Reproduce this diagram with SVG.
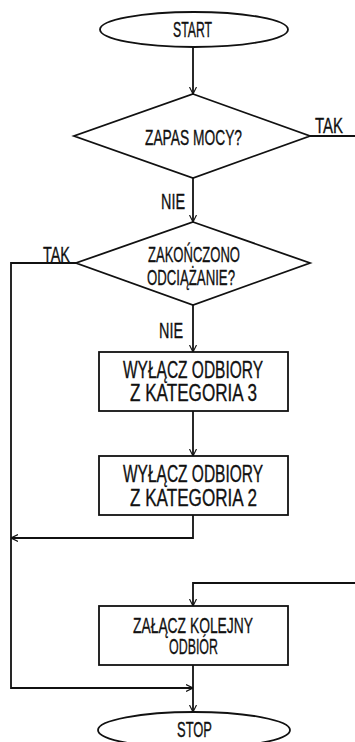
<svg xmlns="http://www.w3.org/2000/svg" width="355" height="742" viewBox="0 0 355 742">
<style>
.s{fill:#fff;stroke:#111;stroke-width:1.8}
.c{fill:none;stroke:#111;stroke-width:1.8}
text{font-family:"Liberation Sans",Arial,sans-serif;font-size:22px;fill:#111;stroke:#111;stroke-width:0.35;text-anchor:middle}
.l{text-anchor:start}
.b{font-size:23px}
</style>
<defs>
<marker id="a" markerUnits="userSpaceOnUse" viewBox="0 0 10 10" refX="10" refY="5" markerWidth="7" markerHeight="11" orient="auto">
<path d="M0,0 L10,5 L0,10" fill="none" stroke="#111" stroke-width="1.6"/>
</marker>
</defs>
<rect width="355" height="742" fill="#fff"/>
<g id="connectors">
<path class="c" d="M193,47 V94" marker-end="url(#a)"/>
<path class="c" d="M310,136 H355"/>
<path class="c" d="M193,178 V222" marker-end="url(#a)"/>
<path class="c" d="M76,263 H11 V688 H193" marker-end="url(#a)"/>
<path class="c" d="M193,305 V352" marker-end="url(#a)"/>
<path class="c" d="M193,411 V456" marker-end="url(#a)"/>
<path class="c" d="M193,515 V538 H11" marker-end="url(#a)"/>
<path class="c" d="M355,583 H193 V606" marker-end="url(#a)"/>
<path class="c" d="M193,665 V712" marker-end="url(#a)"/>
<text class="l" x="315" y="133" textLength="28" lengthAdjust="spacingAndGlyphs">TAK</text>
<text class="l" x="161" y="209" textLength="24" lengthAdjust="spacingAndGlyphs">NIE</text>
<text class="l" x="43" y="262" textLength="27" lengthAdjust="spacingAndGlyphs">TAK</text>
<text class="l" x="159" y="338" textLength="24" lengthAdjust="spacingAndGlyphs">NIE</text>
</g>
<g id="start">
<ellipse class="s" cx="194" cy="29.5" rx="94" ry="17.5"/>
<text x="192.5" y="37" textLength="39" lengthAdjust="spacingAndGlyphs">START</text>
</g>
<g id="zapas">
<polygon class="s" points="193,94 310,136 193,178 74,136"/>
<text x="193.5" y="145" textLength="97" lengthAdjust="spacingAndGlyphs">ZAPAS MOCY?</text>
</g>
<g id="zakonczono">
<polygon class="s" points="193,222 310,263 193,305 76,263"/>
<text x="194" y="262" textLength="92" lengthAdjust="spacingAndGlyphs">ZAKOŃCZONO</text>
<text x="191" y="285" textLength="88" lengthAdjust="spacingAndGlyphs">ODCIĄŻANIE?</text>
</g>
<g id="kat3">
<rect class="s" x="99" y="352" width="189" height="59"/>
<text class="b" x="193" y="378" textLength="140" lengthAdjust="spacingAndGlyphs">WYŁĄCZ ODBIORY</text>
<text class="b" x="193.5" y="401" textLength="127" lengthAdjust="spacingAndGlyphs">Z KATEGORIA 3</text>
</g>
<g id="kat2">
<rect class="s" x="99" y="456" width="189" height="59"/>
<text class="b" x="193" y="482" textLength="140" lengthAdjust="spacingAndGlyphs">WYŁĄCZ ODBIORY</text>
<text class="b" x="193.5" y="506" textLength="127" lengthAdjust="spacingAndGlyphs">Z KATEGORIA 2</text>
</g>
<g id="zalacz">
<rect class="s" x="99" y="606" width="189" height="59"/>
<text x="193" y="633" textLength="120" lengthAdjust="spacingAndGlyphs">ZAŁĄCZ KOLEJNY</text>
<text x="193.5" y="654" textLength="49" lengthAdjust="spacingAndGlyphs">ODBIÓR</text>
</g>
<g id="stop">
<ellipse class="s" cx="194" cy="730" rx="96" ry="18"/>
<text x="194.5" y="737" textLength="35" lengthAdjust="spacingAndGlyphs">STOP</text>
</g>
</svg>
